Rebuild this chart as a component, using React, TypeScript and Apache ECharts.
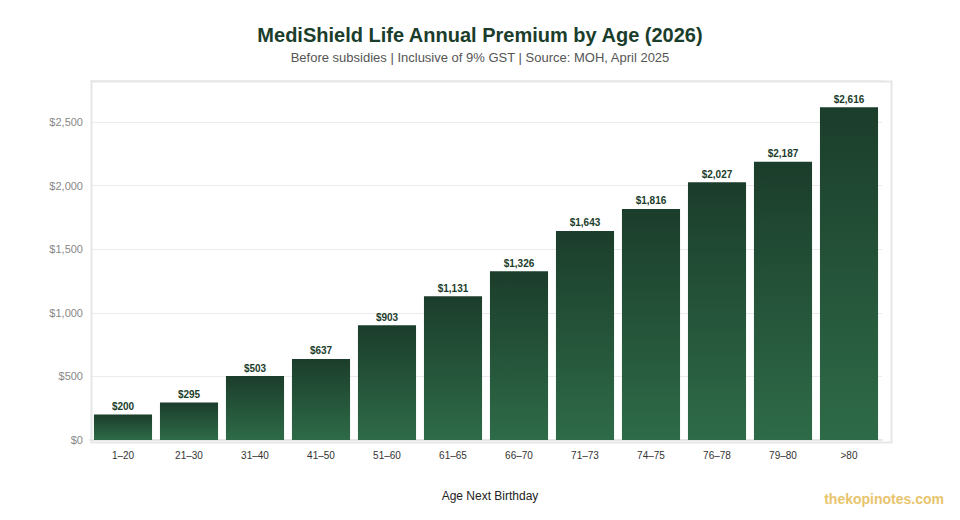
import React, { useEffect, useRef } from "react";
import * as echarts from "echarts";

const ageBands = ["1–20", "21–30", "31–40", "41–50", "51–60", "61–65", "66–70", "71–73", "74–75", "76–78", "79–80", ">80"];
const premiums = [200, 295, 503, 637, 903, 1131, 1326, 1643, 1816, 2027, 2187, 2616];

const DARK = "#1b3d2b";
const LIGHT = "#2e6b48";

export default function App() {
    const chartRef = useRef<HTMLDivElement>(null);

    useEffect(() => {
        if (chartRef.current === null) return;
        const chart = echarts.init(chartRef.current, undefined, { renderer: "svg" });

        const fmt = (v: number) => "$" + v.toLocaleString("en-US");

        chart.setOption({
            animation: false,
            textStyle: { fontFamily: "Liberation Sans, Arial, sans-serif" },
            title: {
                text: "MediShield Life Annual Premium by Age (2026)",
                subtext: "Before subsidies | Inclusive of 9% GST | Source: MOH, April 2025",
                left: "center",
                top: 12,
                itemGap: 6,
                textStyle: { color: DARK, fontSize: 20, fontWeight: "bold" },
                subtextStyle: { color: "#555", fontSize: 13 },
            },
            graphic: [
                // plot frame (slightly wider than the category band on the right)
                {
                    type: "rect",
                    left: 81,
                    top: 71,
                    z: 0,
                    shape: { width: 800, height: 361 },
                    style: { fill: "none", stroke: "#e6e6e6", lineWidth: 2 },
                },
                {
                    type: "text",
                    right: 8,
                    top: 484,
                    style: {
                        text: "thekopinotes.com",
                        fill: "#e8c46c",
                        font: "bold 14px Liberation Sans, Arial, sans-serif",
                    },
                },
            ],
            grid: {
                left: 82,
                right: 70,
                top: 72,
                bottom: 72,
            },
            xAxis: {
                type: "category",
                data: ageBands,
                name: "Age Next Birthday",
                nameLocation: "middle",
                nameGap: 50,
                nameTextStyle: { color: "#222", fontSize: 12, padding: [0, 0, 0, 8] },
                axisLine: { lineStyle: { color: "#e6e6e6", width: 2 } },
                axisTick: { show: false },
                axisLabel: { color: "#333", fontSize: 10, margin: 10 },
            },
            yAxis: {
                type: "value",
                min: 0,
                max: 2830,
                interval: 500,
                axisLine: { show: false },
                axisTick: { show: false },
                axisLabel: {
                    color: "#888",
                    fontSize: 11,
                    margin: 7,
                    formatter: (v: number) => (v > 2500 ? "" : fmt(v)),
                },
                splitLine: { lineStyle: { color: "#ebebeb" } },
            },
            series: [
                {
                    type: "bar",
                    data: premiums,
                    barCategoryGap: "12%",
                    itemStyle: {
                        color: new echarts.graphic.LinearGradient(0, 0, 0, 1, [
                            { offset: 0, color: DARK },
                            { offset: 1, color: LIGHT },
                        ]),
                    },
                    label: {
                        show: true,
                        position: "top",
                        distance: 3,
                        color: DARK,
                        fontSize: 10,
                        fontWeight: "bold",
                        formatter: (p: any) => fmt(p.value),
                    },
                },
            ],
        });

        return () => chart.dispose();
    }, []);

    return <div ref={chartRef} style={{ width: 944, height: 504 }} />;
}
